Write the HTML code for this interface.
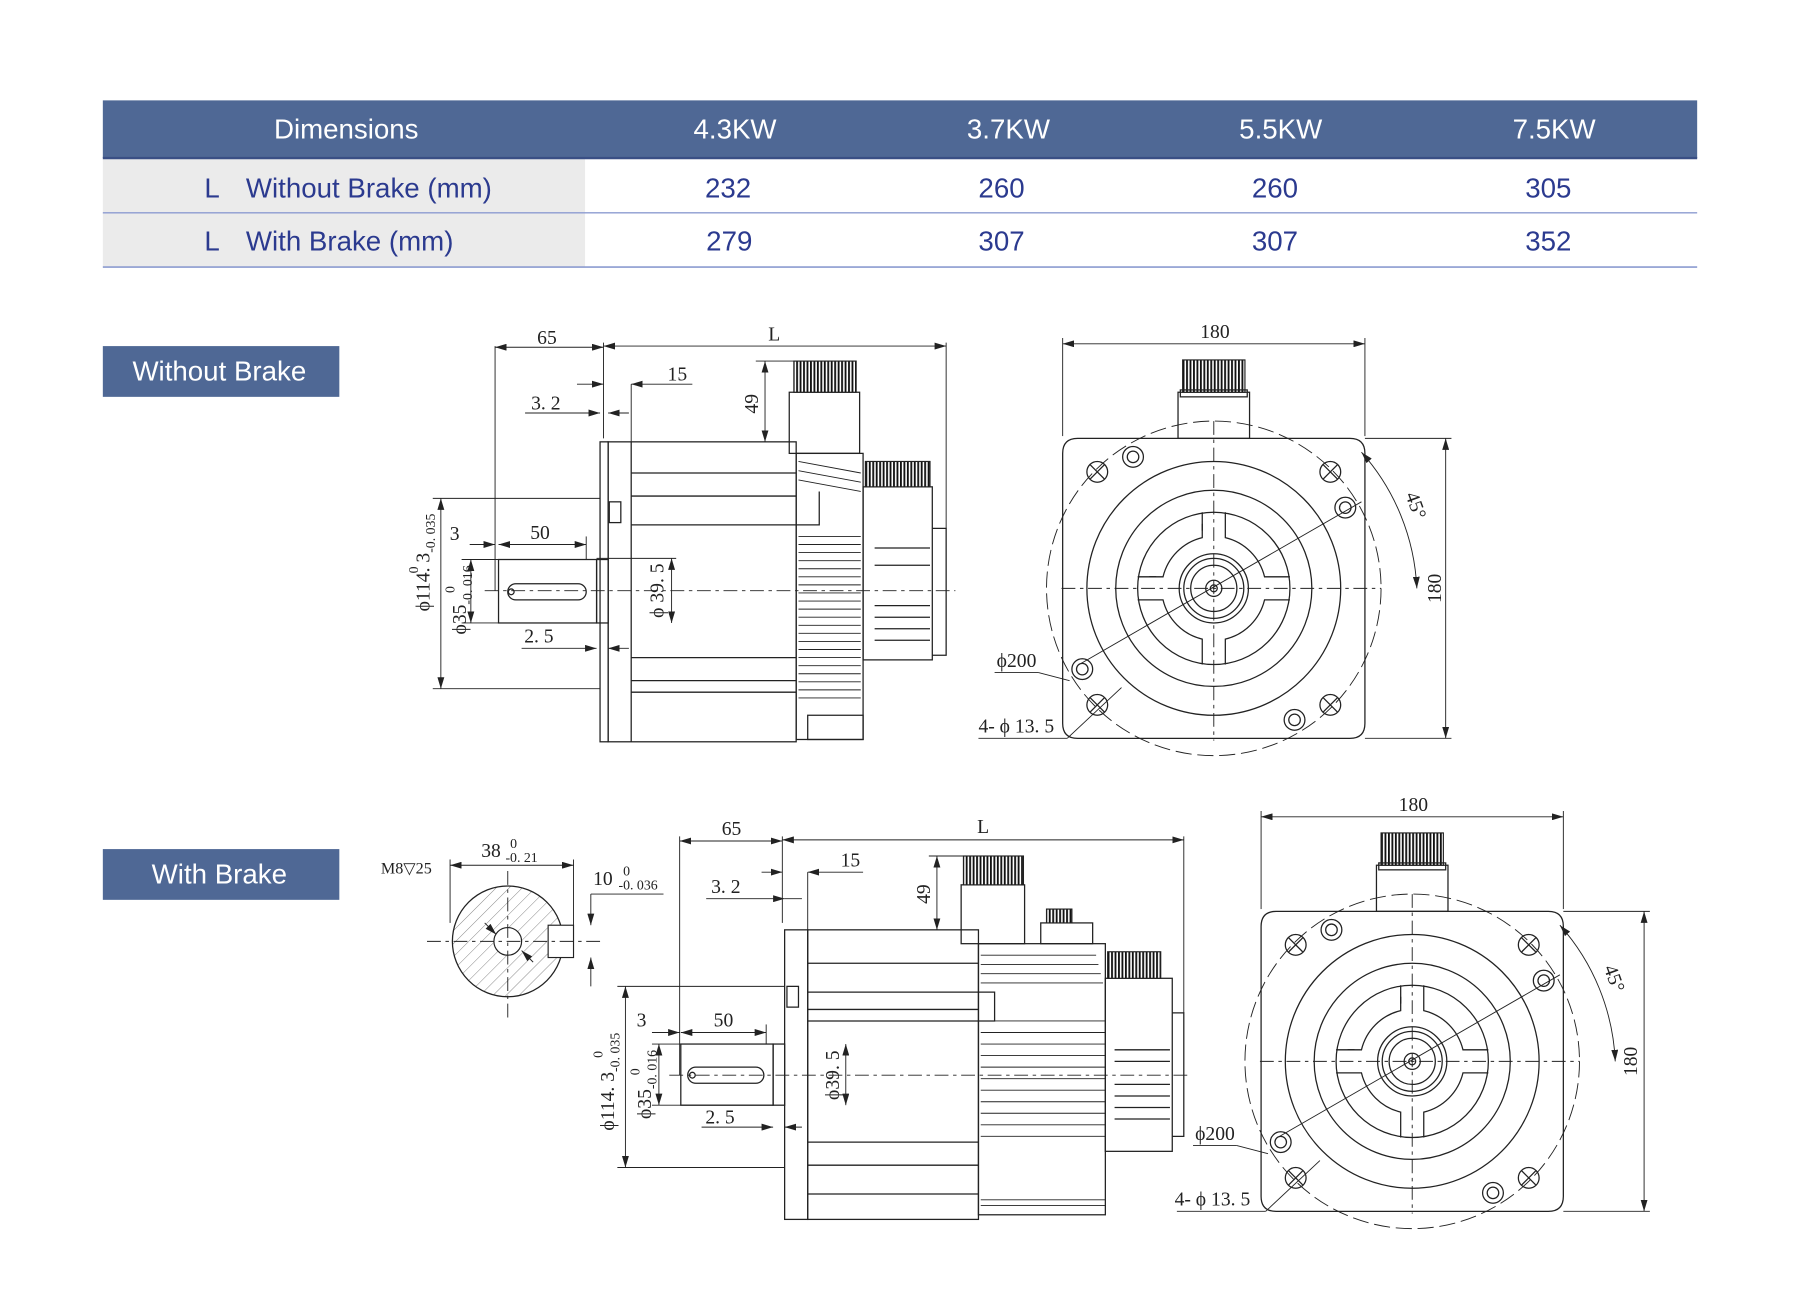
<!DOCTYPE html>
<html><head><meta charset="utf-8"><style>
html,body{margin:0;padding:0;background:#fff}
svg{display:block}
.s{fill:none;stroke:#222;stroke-width:1.1}
.t{stroke:#222;stroke-width:0.8;fill:none}
.d{stroke:#222;stroke-width:0.8;fill:none;stroke-dasharray:12 4 3 4}
.dm{font-family:"Liberation Serif",serif;font-size:17px;fill:#222}
.sm{font-family:"Liberation Serif",serif;font-size:12px;fill:#222}
.hd{font-family:"Liberation Sans",sans-serif;font-size:24px;fill:#fff}
.bd{font-family:"Liberation Sans",sans-serif;font-size:24px;fill:#2b3a8f}
</style></head><body>
<svg width="1800" height="1314" viewBox="0 0 1560 1139" xmlns="http://www.w3.org/2000/svg">
<defs>
<marker id="a" viewBox="0 0 10 6" refX="10" refY="3" markerWidth="10" markerHeight="6" orient="auto-start-reverse" markerUnits="userSpaceOnUse"><path d="M0,0L10,3L0,6z" fill="#222"/></marker>
<pattern id="th" width="3" height="10" patternUnits="userSpaceOnUse"><rect width="3" height="10" fill="#fff"/><line x1="0.8" y1="0" x2="0.8" y2="10" stroke="#111" stroke-width="1.6"/></pattern>
<pattern id="hx" width="8" height="8" patternUnits="userSpaceOnUse" patternTransform="rotate(45)"><line x1="0" y1="0" x2="0" y2="8" stroke="#555" stroke-width="0.6"/></pattern>
<g id="front">
 <!-- centered at 0,0 ; square 262 -->
 <path class="s" d="M-118,-130 H118 Q131,-130 131,-117 V117 Q131,130 118,130 H-118 Q-131,130 -131,117 V-117 Q-131,-130 -118,-130 Z"/>
 <circle class="t" cx="0" cy="0" r="145" stroke-dasharray="14 5"/>
 <circle class="s" cx="0" cy="0" r="110"/>
 <circle class="s" cx="0" cy="0" r="85"/>
 <circle class="s" cx="0" cy="0" r="66"/>
 <circle class="s" cx="0" cy="0" r="30"/>
 <circle class="s" cx="0" cy="0" r="26"/>
 <circle class="s" cx="0" cy="0" r="20"/>
 <circle class="s" cx="0" cy="0" r="7"/>
 <circle class="s" cx="0" cy="0" r="3"/>
 <path class="s" d="M-10,-66 V-44 A46 46 0 0 0 -44,-10 H-66 M10,-66 V-44 A46 46 0 0 1 44,-10 H66 M-10,66 V44 A46 46 0 0 1 -44,10 H-66 M10,66 V44 A46 46 0 0 0 44,10 H66"/>
 <path class="s" d="M-10,-56 V-50 M-56,-10 H-50"/>
 <line class="d" x1="-132" y1="0" x2="145" y2="0"/>
 <line class="d" x1="0" y1="-145" x2="0" y2="132"/>
 <line class="t" x1="-115" y1="65" x2="128" y2="-75"/>
 <!-- bolt holes -->
 <g class="s"><circle cx="-101" cy="-101" r="9"/><path d="M-107,-107L-95,-95M-107,-95L-95,-107"/>
 <circle cx="101" cy="-101" r="9"/><path d="M95,-107L107,-95M95,-95L107,-107"/>
 <circle cx="-101" cy="101" r="9"/><path d="M-107,95L-95,107M-107,107L-95,95"/>
 <circle cx="101" cy="101" r="9"/><path d="M95,95L107,107M95,107L107,95"/>
 <circle cx="-70" cy="-114" r="9"/><circle cx="-70" cy="-114" r="5"/>
 <circle cx="114" cy="-70" r="9"/><circle cx="114" cy="-70" r="5"/>
 <circle cx="-114" cy="70" r="9"/><circle cx="-114" cy="70" r="5"/>
 <circle cx="70" cy="114" r="9"/><circle cx="70" cy="114" r="5"/></g>
 <!-- connector -->
 <rect class="s" x="-31" y="-170" width="62" height="40"/>
 <rect x="-27" y="-198" width="54" height="28" fill="url(#th)" stroke="#222"/>
 <rect class="s" x="-29" y="-172" width="58" height="6"/>
</g>
</defs>

<!-- TABLE -->
<rect x="89" y="87" width="1382" height="50" fill="#4f6895"/>
<rect x="89" y="137" width="418" height="94" fill="#ebebeb"/>
<line x1="89" y1="137" x2="1471" y2="137" stroke="#3a4f85" stroke-width="2"/>
<line x1="89" y1="184.5" x2="1471" y2="184.5" stroke="#8c9bd0" stroke-width="1.2"/>
<line x1="89" y1="231.5" x2="1471" y2="231.5" stroke="#8c9bd0" stroke-width="1.5"/>
<text class="hd" x="300" y="120" text-anchor="middle">Dimensions</text>
<text class="hd" x="637" y="120" text-anchor="middle">4.3KW</text>
<text class="hd" x="874" y="120" text-anchor="middle">3.7KW</text>
<text class="hd" x="1110" y="120" text-anchor="middle">5.5KW</text>
<text class="hd" x="1347" y="120" text-anchor="middle">7.5KW</text>
<text class="bd" x="177" y="171">L</text><text class="bd" x="213" y="171">Without Brake (mm)</text>
<text class="bd" x="177" y="217">L</text><text class="bd" x="213" y="217">With Brake (mm)</text>
<g class="bd" text-anchor="middle">
<text x="631" y="171">232</text><text x="868" y="171">260</text><text x="1105" y="171">260</text><text x="1342" y="171">305</text>
<text x="632" y="217">279</text><text x="868" y="217">307</text><text x="1105" y="217">307</text><text x="1342" y="217">352</text></g>

<!-- LABELS -->
<rect x="89" y="300" width="205" height="44" fill="#4f6895"/>
<text class="hd" x="190" y="330" text-anchor="middle">Without Brake</text>
<rect x="89" y="736" width="205" height="44" fill="#4f6895"/>
<text class="hd" x="190" y="766" text-anchor="middle">With Brake</text>

<!-- SIDE VIEW 1 -->
<g>
 <rect class="s" x="520" y="383" width="7" height="260"/>
 <rect class="s" x="527" y="383" width="163" height="260"/>
 <path class="s" d="M547,383V643M547,410H690M547,430H690M547,455H710V426M547,570H690M547,590H690M547,600H690"/>
 <rect class="s" x="528" y="435" width="10" height="18"/>
 <rect class="s" x="517" y="485" width="10" height="55"/>
 <rect class="s" x="432" y="485" width="85" height="55"/>
 <rect class="s" x="440" y="506" width="68" height="14" rx="7"/>
 <circle class="s" cx="443" cy="513" r="2.5"/>
 <rect class="s" x="690" y="393" width="58" height="248"/>
 <g class="t">
  <path d="M692,465H746M692,472H746M692,479H746M692,486H746M692,493H746M692,500H746M692,507H746M692,514H746M692,521H746M692,528H746M692,535H746M692,542H746M692,549H746M692,556H746M692,563H746M692,570H746M692,577H746M692,584H746M692,591H746M692,598H746M692,605H746"/>
  <path d="M692,400L746,410M692,408L746,418M692,416L746,426"/>
 </g>
 <rect class="s" x="684" y="340" width="61" height="53"/>
 <rect x="688" y="313" width="54" height="27" fill="url(#th)" stroke="#222"/>
 <rect class="s" x="748" y="422" width="60" height="150"/>
 <rect x="750" y="400" width="56" height="22" fill="url(#th)" stroke="#222"/>
 <path class="s" d="M808,458H820V568H808M758,475H806M758,490H806M758,525H806M758,535H806M758,545H806M758,555H806"/>
 <path class="s" d="M700,620H748V641H700Z"/>
 <line class="d" x1="420" y1="512" x2="828" y2="512"/>
</g>
<!-- dims 1 -->
<g class="t">
 <line x1="429" y1="300" x2="429" y2="512"/><line x1="523" y1="297" x2="523" y2="380"/><line x1="820" y1="297" x2="820" y2="458"/>
 <line x1="429" y1="301" x2="523" y2="301" marker-start="url(#a)" marker-end="url(#a)"/>
 <line x1="523" y1="300" x2="820" y2="300" marker-start="url(#a)" marker-end="url(#a)"/>
 <line x1="500" y1="333" x2="523" y2="333" marker-end="url(#a)"/><line x1="547" y1="333" x2="600" y2="333" marker-start="url(#a)"/><line x1="547" y1="333" x2="547" y2="383"/>
 <line x1="455" y1="358" x2="520" y2="358" marker-end="url(#a)"/><line x1="527" y1="358" x2="545" y2="358" marker-start="url(#a)"/>
 <line x1="663" y1="313" x2="663" y2="383" marker-start="url(#a)" marker-end="url(#a)"/><line x1="655" y1="313" x2="688" y2="313"/>
 <line x1="375" y1="432" x2="520" y2="432"/><line x1="375" y1="597" x2="520" y2="597"/>
 <line x1="382" y1="432" x2="382" y2="597" marker-start="url(#a)" marker-end="url(#a)"/>
 <line x1="400" y1="485" x2="432" y2="485"/><line x1="400" y1="540" x2="517" y2="540"/>
 <line x1="408" y1="485" x2="408" y2="540" marker-start="url(#a)" marker-end="url(#a)"/>
 <line x1="407" y1="472" x2="429" y2="472" marker-end="url(#a)"/><line x1="432" y1="472" x2="508" y2="472" marker-start="url(#a)" marker-end="url(#a)"/><line x1="508" y1="465" x2="508" y2="485"/>
 <line x1="452" y1="562" x2="517" y2="562" marker-end="url(#a)"/><line x1="527" y1="562" x2="545" y2="562" marker-start="url(#a)"/>
 <line x1="582" y1="484" x2="582" y2="540" marker-start="url(#a)" marker-end="url(#a)"/><line x1="517" y1="484" x2="586" y2="484"/>
</g>
<g class="dm">
 <text x="474" y="298" text-anchor="middle">65</text><text x="671" y="295" text-anchor="middle">L</text>
 <text x="587" y="330" text-anchor="middle">15</text><text x="473" y="355" text-anchor="middle">3. 2</text>
 <text x="394" y="468" text-anchor="middle">3</text><text x="468" y="467" text-anchor="middle">50</text>
 <text x="467" y="557" text-anchor="middle">2. 5</text>
 <text transform="translate(657,350) rotate(-90)" text-anchor="middle">49</text>
 <text transform="translate(575,512) rotate(-90)" text-anchor="middle">ϕ 39. 5</text>
 <text transform="translate(372,530) rotate(-90)">ϕ114. 3<tspan class="sm" dy="5">-0. 035</tspan></text>
 <text class="sm" transform="translate(362,497) rotate(-90)">0</text>
 <text transform="translate(404,550) rotate(-90)">ϕ35<tspan class="sm" dy="5">-0. 016</tspan></text>
 <text class="sm" transform="translate(394,514) rotate(-90)">0</text>
</g>

<!-- FRONT VIEW 1 -->
<use href="#front" x="1052" y="510"/>
<g class="t">
 <line x1="921" y1="293" x2="921" y2="378"/><line x1="1183" y1="293" x2="1183" y2="378"/>
 <line x1="921" y1="298" x2="1183" y2="298" marker-start="url(#a)" marker-end="url(#a)"/>
 <line x1="1183" y1="380" x2="1258" y2="380"/><line x1="1183" y1="640" x2="1258" y2="640"/>
 <line x1="1253" y1="380" x2="1253" y2="640" marker-start="url(#a)" marker-end="url(#a)"/>
 <path d="M1180,392 A190 190 0 0 1 1228 510" marker-start="url(#a)" marker-end="url(#a)"/>
 <line x1="862" y1="583" x2="900" y2="583"/><line x1="900" y1="583" x2="927" y2="590"/>
 <line x1="848" y1="640" x2="925" y2="640"/><line x1="925" y1="640" x2="972" y2="596"/>
</g>
<g class="dm"><text x="1053" y="293" text-anchor="middle">180</text>
<text x="881" y="578" text-anchor="middle">ϕ200</text><text x="848" y="635">4- ϕ 13. 5</text>
<text transform="translate(1249,510) rotate(-90)" text-anchor="middle">180</text>
<text transform="translate(1222,440) rotate(70)" text-anchor="middle">45°</text></g>

<!-- SHAFT SECTION -->
<g>
 <circle cx="440" cy="816" r="48" fill="url(#hx)" stroke="#222" stroke-width="1.1"/>
 <circle cx="440" cy="816" r="12" fill="#fff" stroke="#222"/>
 <rect x="475" y="802" width="22" height="28" fill="#fff" stroke="#222"/>
 <line class="d" x1="370" y1="816" x2="520" y2="816"/><line class="d" x1="440" y1="755" x2="440" y2="885"/>
 <g class="t"><line x1="390" y1="750" x2="497" y2="750" marker-start="url(#a)" marker-end="url(#a)"/><line x1="497" y1="745" x2="497" y2="802"/>
 <line x1="390" y1="745" x2="390" y2="800"/>
 <line x1="512" y1="775" x2="512" y2="802" marker-end="url(#a)"/><line x1="512" y1="830" x2="512" y2="855" marker-start="url(#a)"/>
 <line x1="512" y1="775" x2="575" y2="775"/><line x1="420" y1="800" x2="430" y2="810" marker-end="url(#a)"/><line x1="462" y1="834" x2="452" y2="824" marker-end="url(#a)"/></g>
 <g class="dm"><text x="330" y="757" font-size="14">M8▽25</text><text x="417" y="743">38</text><text class="sm" x="442" y="735">0</text><text class="sm" x="438" y="747">-0. 21</text>
 <text x="514" y="767">10</text><text class="sm" x="540" y="759">0</text><text class="sm" x="536" y="771">-0. 036</text></g>
</g>

<!-- SIDE VIEW 2 -->
<g>
 <rect class="s" x="680" y="806" width="20" height="251"/>
 <rect class="s" x="700" y="806" width="148" height="251"/>
 <path class="s" d="M700,835H848M700,860H862V885H700M700,875H848M700,1035H848M700,1010H848M700,990H848"/>
 <rect class="s" x="682" y="855" width="10" height="18"/>
 <rect class="s" x="670" y="905" width="10" height="53"/>
 <rect class="s" x="590" y="905" width="80" height="53"/>
 <rect class="s" x="596" y="925" width="66" height="14" rx="7"/>
 <circle class="s" cx="600" cy="932" r="2.5"/>
 <rect class="s" x="848" y="818" width="110" height="235"/>
 <g class="t"><path d="M850,885H958M850,895H958M850,905H958M850,915H958M850,925H958M850,935H958M850,945H958M850,955H958M850,965H958M850,975H958M850,985H958M850,1040H958M850,1045H958M850,828H950M850,836H952M850,844H954M850,852H956"/></g>
 <rect class="s" x="833" y="767" width="55" height="51"/>
 <rect x="835" y="742" width="52" height="25" fill="url(#th)" stroke="#222"/>
 <rect class="s" x="902" y="800" width="45" height="18"/><rect x="907" y="788" width="22" height="12" fill="url(#th)" stroke="#222"/>
 <rect class="s" x="958" y="848" width="58" height="150"/>
 <rect x="960" y="825" width="46" height="23" fill="url(#th)" stroke="#222"/>
 <path class="s" d="M1016,878H1026V985H1016M966,910H1014M966,920H1014M966,940H1014M966,950H1014M966,960H1014M966,970H1014"/>
 <line class="d" x1="580" y1="932" x2="1030" y2="932"/>
</g>
<g class="t">
 <line x1="589" y1="725" x2="589" y2="932"/><line x1="678" y1="725" x2="678" y2="800"/><line x1="1026" y1="725" x2="1026" y2="878"/>
 <line x1="589" y1="729" x2="678" y2="729" marker-start="url(#a)" marker-end="url(#a)"/>
 <line x1="678" y1="728" x2="1026" y2="728" marker-start="url(#a)" marker-end="url(#a)"/>
 <line x1="660" y1="756" x2="678" y2="756" marker-end="url(#a)"/><line x1="700" y1="756" x2="748" y2="756" marker-start="url(#a)"/><line x1="700" y1="756" x2="700" y2="806"/>
 <line x1="612" y1="779" x2="680" y2="779" marker-end="url(#a)"/><line x1="680" y1="779" x2="695" y2="779"/>
 <line x1="812" y1="742" x2="812" y2="806" marker-start="url(#a)" marker-end="url(#a)"/><line x1="805" y1="742" x2="835" y2="742"/>
 <line x1="535" y1="855" x2="680" y2="855"/><line x1="535" y1="1012" x2="680" y2="1012"/>
 <line x1="542" y1="855" x2="542" y2="1012" marker-start="url(#a)" marker-end="url(#a)"/>
 <line x1="565" y1="905" x2="590" y2="905"/><line x1="565" y1="958" x2="670" y2="958"/>
 <line x1="571" y1="905" x2="571" y2="958" marker-start="url(#a)" marker-end="url(#a)"/>
 <line x1="565" y1="895" x2="589" y2="895" marker-end="url(#a)"/><line x1="590" y1="895" x2="664" y2="895" marker-start="url(#a)" marker-end="url(#a)"/><line x1="664" y1="888" x2="664" y2="905"/>
 <line x1="608" y1="977" x2="670" y2="977" marker-end="url(#a)"/><line x1="680" y1="977" x2="695" y2="977" marker-start="url(#a)"/>
 <line x1="733" y1="905" x2="733" y2="958" marker-start="url(#a)" marker-end="url(#a)"/>
</g>
<g class="dm">
 <text x="634" y="724" text-anchor="middle">65</text><text x="852" y="722" text-anchor="middle">L</text>
 <text x="737" y="751" text-anchor="middle">15</text><text x="629" y="774" text-anchor="middle">3. 2</text>
 <text x="556" y="890" text-anchor="middle">3</text><text x="627" y="890" text-anchor="middle">50</text>
 <text x="624" y="974" text-anchor="middle">2. 5</text>
 <text transform="translate(806,775) rotate(-90)" text-anchor="middle">49</text>
 <text transform="translate(727,932) rotate(-90)" text-anchor="middle">ϕ39. 5</text>
 <text transform="translate(532,980) rotate(-90)">ϕ114. 3<tspan class="sm" dy="5">-0. 035</tspan></text>
 <text class="sm" transform="translate(522,917) rotate(-90)">0</text>
 <text transform="translate(564,970) rotate(-90)">ϕ35<tspan class="sm" dy="5">-0. 016</tspan></text>
 <text class="sm" transform="translate(554,932) rotate(-90)">0</text>
</g>

<!-- FRONT VIEW 2 -->
<use href="#front" x="1224" y="920"/>
<g class="t">
 <line x1="1093" y1="703" x2="1093" y2="788"/><line x1="1355" y1="703" x2="1355" y2="788"/>
 <line x1="1093" y1="708" x2="1355" y2="708" marker-start="url(#a)" marker-end="url(#a)"/>
 <line x1="1355" y1="790" x2="1430" y2="790"/><line x1="1355" y1="1050" x2="1430" y2="1050"/>
 <line x1="1425" y1="790" x2="1425" y2="1050" marker-start="url(#a)" marker-end="url(#a)"/>
 <path d="M1352,802 A190 190 0 0 1 1400 920" marker-start="url(#a)" marker-end="url(#a)"/>
 <line x1="1034" y1="993" x2="1072" y2="993"/><line x1="1072" y1="993" x2="1099" y2="1000"/>
 <line x1="1020" y1="1050" x2="1097" y2="1050"/><line x1="1097" y1="1050" x2="1144" y2="1006"/>
</g>
<g class="dm"><text x="1225" y="703" text-anchor="middle">180</text>
<text x="1053" y="988" text-anchor="middle">ϕ200</text><text x="1018" y="1045">4- ϕ 13. 5</text>
<text transform="translate(1419,920) rotate(-90)" text-anchor="middle">180</text>
<text transform="translate(1394,850) rotate(70)" text-anchor="middle">45°</text></g>
</svg>
</body></html>
